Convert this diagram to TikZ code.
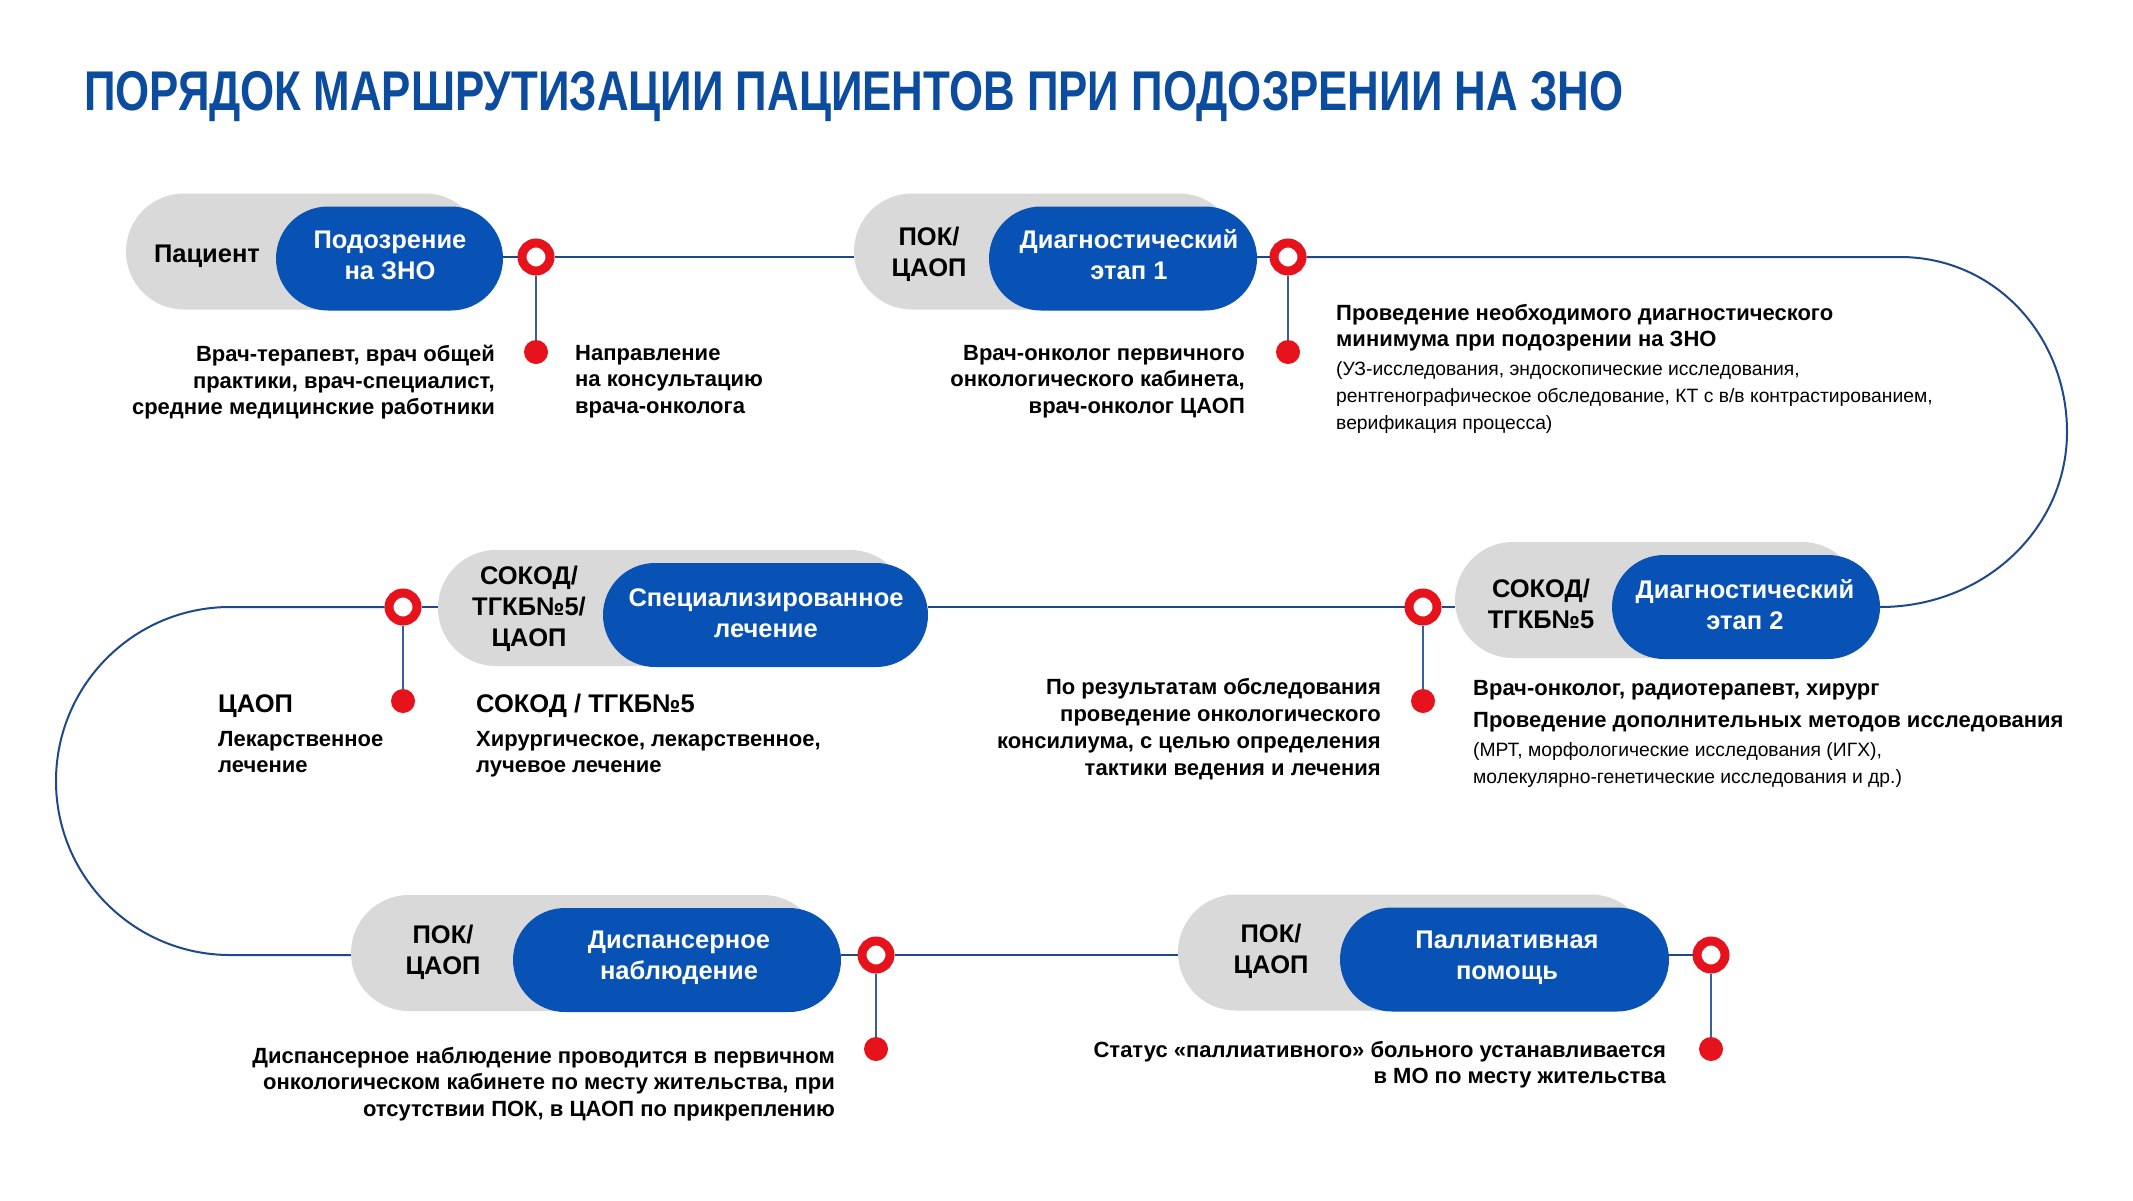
\documentclass[tikz,border=0pt]{standalone}
\usepackage{fontspec}
\setmainfont{Liberation Sans}
\newfontfamily\titlefont{Liberation Sans}[FakeStretch=0.783]
\usetikzlibrary{shapes.misc}
\definecolor{pillblue}{RGB}{8,82,182}
\definecolor{pillgray}{RGB}{217,217,217}
\definecolor{titleblue}{RGB}{12,76,158}
\definecolor{lineblue}{RGB}{30,72,140}
\definecolor{stemblue}{RGB}{55,95,160}
\definecolor{ringred}{RGB}{230,18,28}
\begin{document}
\begin{tikzpicture}[x=1pt,y=-1pt,
  graypill/.style={rounded rectangle, fill=pillgray, inner sep=0pt, minimum height=116pt},
  bluepill/.style={rounded rectangle, fill=pillblue, inner sep=0pt, minimum height=104pt},
  pilltxt/.style={font=\bfseries\fontsize{25.5}{31}\selectfont, align=center, inner sep=0pt},
  bodybold/.style={font=\bfseries\fontsize{22}{26.5}\selectfont, inner sep=0pt},
  bodybig/.style={font=\bfseries\fontsize{25.5}{31}\selectfont, inner sep=0pt},
  bodyreg/.style={font=\fontsize{19.3}{27}\selectfont, inner sep=0pt},
  ring/.style={circle, draw=ringred, line width=9pt, fill=white, minimum size=28pt, inner sep=0pt},
  reddot/.style={circle, fill=ringred, minimum size=24pt, inner sep=0pt},
  conn/.style={draw=lineblue, line width=2pt},
  stem/.style={draw=stemblue, line width=2.5pt}]
\useasboundingbox (0,0) rectangle (2133,1200);
\fill[white] (0,0) rectangle (2133,1200);

% title
\node[anchor=base west, inner sep=0pt, text=titleblue, font=\titlefont\bfseries\fontsize{56}{60}\selectfont] (title) at (84,110) {ПОРЯДОК МАРШРУТИЗАЦИИ ПАЦИЕНТОВ ПРИ ПОДОЗРЕНИИ НА ЗНО};

% pills row 1
\node[graypill, minimum width=357pt] (Ag) at (304.5,251.5) {};
\node[bluepill, minimum width=227pt] (Ab) at (389.5,258.5) {};
\node[pilltxt] (At) at (207,256) {Пациент};
\node[pilltxt, text=white] (Abt) at (390,255) {Подозрение\\на ЗНО};

\node[graypill, minimum width=383pt] (Bg) at (1045.5,251.5) {};
\node[bluepill, minimum width=268pt] (Bb) at (1123,258.5) {};
\node[pilltxt] (Bt) at (929,254) {ПОК/\\ЦАОП};
\node[pilltxt, text=white] (Bbt) at (1129,255) {Диагностический\\этап 1};

% pills row 2
\node[graypill, minimum width=405pt] (Eg) at (1657.5,600) {};
\node[bluepill, minimum width=268pt] (Eb) at (1746,607) {};
\node[pilltxt] (Et) at (1541,604) {СОКОД/\\ТГКБ№5};
\node[pilltxt, text=white] (Ebt) at (1745,605) {Диагностический\\этап 2};

\node[graypill, minimum width=470pt] (Dg) at (673,608) {};
\node[bluepill, minimum width=325pt] (Db) at (765.5,615) {};
\node[pilltxt] (Dt) at (529,609) {СОКОД/\\ТГКБ№5/\\ЦАОП};
\node[pilltxt, text=white] (Dbt) at (766,613) {Специализированное\\лечение};

% pills row 3
\node[graypill, minimum width=470pt] (Fg) at (586,953) {};
\node[bluepill, minimum width=328pt] (Fb) at (677,960) {};
\node[pilltxt] (Ft) at (443,952) {ПОК/\\ЦАОП};
\node[pilltxt, text=white] (Fbt) at (679,958) {Диспансерное\\наблюдение};

\node[graypill, minimum width=471pt] (Gg) at (1413.5,952.5) {};
\node[bluepill, minimum width=329pt] (Gb) at (1504.5,959.5) {};
\node[pilltxt] (Gt) at (1271,951) {ПОК/\\ЦАОП};
\node[pilltxt, text=white] (Gbt) at (1507,958) {Паллиативная\\помощь};

% rings and dots
\node[ring] (r1) at (536,257) {};
\node[ring] (r2) at (1288,257) {};
\node[ring] (r3) at (1423,607) {};
\node[ring] (r4) at (403,607) {};
\node[ring] (r5) at (876,955) {};
\node[ring] (r6) at (1711,955) {};
\node[reddot] (d1) at (536,352) {};
\node[reddot] (d2) at (1288,352) {};
\node[reddot] (d3) at (1423,701) {};
\node[reddot] (d4) at (403,701) {};
\node[reddot] (d5) at (876,1049) {};
\node[reddot] (d6) at (1711,1049) {};

\coordinate (c1) at (1900,257);
\coordinate (c3) at (230,607);
\coordinate (c4) at (230,955);

% connectors
\draw[conn] (r1 -| Ab.east) -- (r1);
\draw[conn] (r1) -- (r1 -| Bg.west);
\draw[conn] (r2 -| Bb.east) -- (r2);
\draw[conn] (r2) -- (c1) .. controls (1995,257) and (2067,336) .. (2067,432)
  .. controls (2067,528) and (1985,607) .. (r3 -| Eb.east);
\draw[conn] (r3 -| Eg.west) -- (r3);
\draw[conn] (r3) -- (r3 -| Db.east);
\draw[conn] (r4 -| Dg.west) -- (r4);
\draw[conn] (r4) -- (c3) .. controls (134,607) and (56,685) .. (56,781)
  .. controls (56,877) and (134,955) .. (c4) -- (r5 -| Fg.west);
\draw[conn] (r5 -| Fb.east) -- (r5);
\draw[conn] (r5) -- (r5 -| Gg.west);
\draw[conn] (r6 -| Gb.east) -- (r6);
\foreach \i in {1,...,6} {\draw[stem] (r\i) -- (d\i);}

% texts row 1
\node[bodybold, anchor=north east, align=right] (t1) at (495,345) {Врач-терапевт, врач общей\\практики, врач-специалист,\\средние медицинские работники};
\node[bodybold, anchor=north west, align=left] (t2) at (575,345) {Направление\\на консультацию\\врача-онколога};
\node[bodybold, anchor=north east, align=right] (t3) at (1245,345) {Врач-онколог первичного\\онкологического кабинета,\\врач-онколог ЦАОП};
\node[bodybold, anchor=north west, align=left] (t4a) at (1336,304) {Проведение необходимого диагностического\\минимума при подозрении на ЗНО};
\node[bodyreg, anchor=north west, align=left] (t4b) at (1336,361) {(УЗ-исследования, эндоскопические исследования,\\рентгенографическое обследование, КТ с в/в контрастированием,\\верификация процесса)};

% texts row 2
\node[bodybig, anchor=north west] (t5a) at (218,694) {ЦАОП};
\node[bodybold, anchor=north west, align=left] (t5b) at (218,731) {Лекарственное\\лечение};
\node[bodybig, anchor=north west] (t6a) at (476,694) {СОКОД / ТГКБ№5};
\node[bodybold, anchor=north west, align=left] (t6b) at (476,731) {Хирургическое, лекарственное,\\лучевое лечение};
\node[bodybold, anchor=north east, align=right, font=\bfseries\fontsize{22}{27}\selectfont] (t7) at (1381,678) {По результатам обследования\\проведение онкологического\\консилиума, с целью определения\\тактики ведения и лечения};
\node[bodybold, anchor=north west] (t8a) at (1473,680) {Врач-онколог, радиотерапевт, хирург};
\node[bodybold, anchor=north west] (t8b) at (1473,712) {Проведение дополнительных методов исследования};
\node[bodyreg, anchor=north west, align=left] (t8c) at (1473,742) {(МРТ, морфологические исследования (ИГХ),\\молекулярно-генетические исследования и др.)};

% texts row 3
\node[bodybold, anchor=north east, align=right] (t9) at (835,1047) {Диспансерное наблюдение проводится в первичном\\онкологическом кабинете по месту жительства, при\\отсутствии ПОК, в ЦАОП по прикреплению};
\node[bodybold, anchor=north east, align=right] (t10) at (1666,1041) {Статус «паллиативного» больного устанавливается\\в МО по месту жительства};
\end{tikzpicture}
\end{document}
